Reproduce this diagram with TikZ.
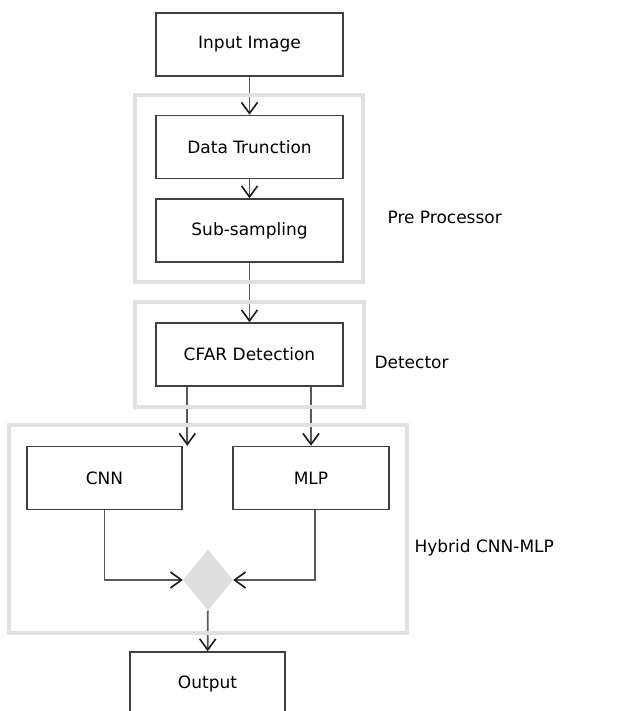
\documentclass[tikz,border=0pt]{standalone}
\usepackage{fontspec}
\setmainfont{DejaVu Sans}
\usetikzlibrary{arrows.meta,calc,shapes.geometric}
\tikzset{
    block/.style = {
        draw = black!75,
        line width = 1.5pt,
        fill = white,
        minimum width = 187pt,
        minimum height = 63pt,
        font = \fontsize{17}{20}\selectfont,
        },
    block small/.style = {
        block,
        minimum width = 155pt,
        },
    merge/.style = {
        diamond,
        fill = black!13,
        inner sep = 0pt,
        minimum width = 50pt,
        minimum height = 61pt,
        },
    group/.style = {
        draw = black!12,
        line width = 4pt,
        },
    group label/.style = {
        anchor = west,
        font = \fontsize{17}{20}\selectfont,
        },
    flow/.style = {
        draw = black!65,
        line width = 1.8pt,
        -{Straight Barb[length=11pt,width=16pt,line width=1.6pt,color=black!90]},
        },
}
\begin{document}
\begin{tikzpicture}[x=1pt,y=-1pt]
            \useasboundingbox (0,0) rectangle (628,711);

            \node[block] (input) at (249.5,44.5) {Input Image};
            \node[block] (trunc) at (249.5,147) {Data Trunction};
            \node[block] (subsamp) at (249.5,230.5) {Sub-sampling};
            \node[block] (cfar) at (249.5,354.5) {CFAR Detection};
            \node[block small] (cnn) at (104.5,478) {CNN};
            \node[block small, minimum width=156pt] (mlp) at (311,478) {MLP};
            \node[merge] (join) at (208,580) {};
            \node[block small] (output) at (207.5,683.5) {Output};

            \path[flow] (input) -- (trunc);
            \path[flow] (trunc) -- (subsamp);
            \path[flow] (subsamp) -- (cfar);
            \path[flow] ([xshift=32pt]cfar.south west) -- ([xshift=32pt]cfar.south west |- cnn.north);
            \path[flow] (cfar.south -| mlp.north) -- (mlp.north);
            \path[flow] (cnn.south) |- (join.west);
            \path[flow] ([xshift=4pt]mlp.south) |- (join.east);
            \path[flow] (join) -- (output);

            % grouping frames
            \draw[group] (135,95) rectangle (363,282);
            \draw[group] (135,302) rectangle (364,407);
            \draw[group] (9,425) rectangle (407,633);

            \node[group label] (prelbl) at (384,217) {Pre Processor};
            \node[group label] (detlbl) at (371,362) {Detector};
            \node[group label] (hyblbl) at (411,548) {Hybrid CNN-MLP};
        \end{tikzpicture}
\end{document}
